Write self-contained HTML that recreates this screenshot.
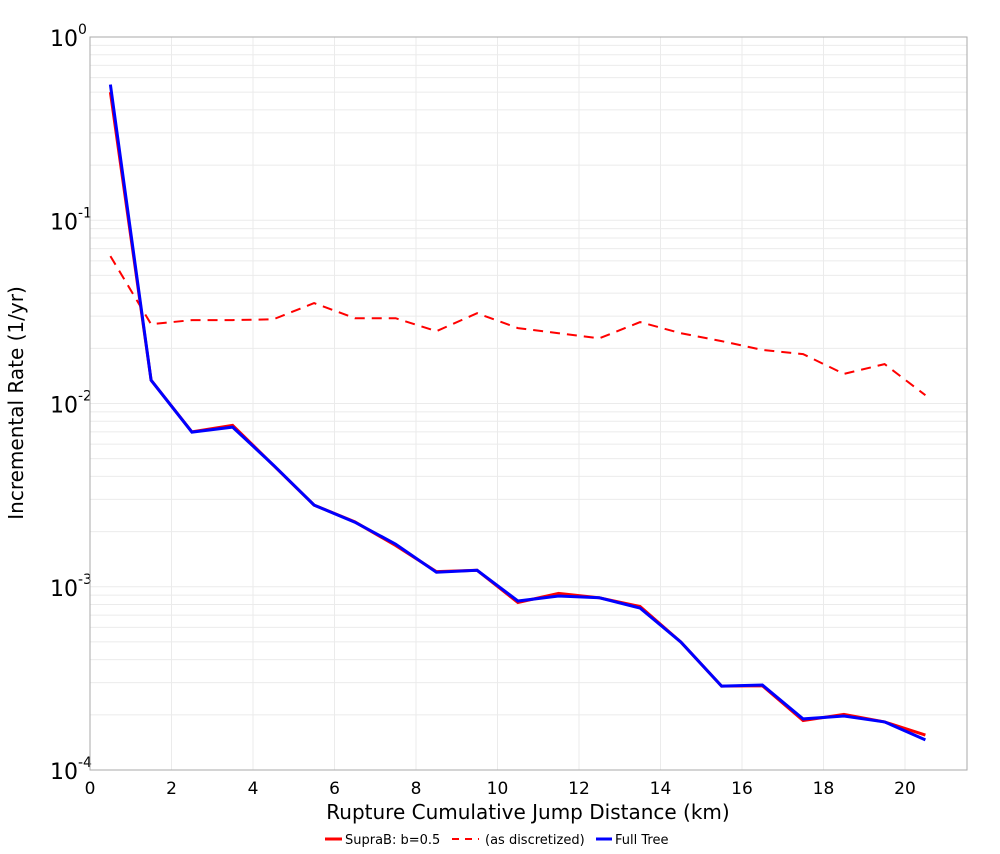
<!DOCTYPE html>
<html><head><meta charset="utf-8"><style>
body{margin:0;background:#fff;font-family:"DejaVu Sans","Liberation Sans",sans-serif}
</style></head><body>
<svg id="chart" width="1000" height="850" xmlns="http://www.w3.org/2000/svg">
<g id="grid"></g>
<g id="axes"></g>
<g id="series"></g>
<text x="528" y="819" font-size="20" text-anchor="middle">Rupture Cumulative Jump Distance (km)</text>
<text transform="translate(23,403) rotate(-90)" font-size="20" text-anchor="middle">Incremental Rate (1/yr)</text>
<g font-size="13">
<g><line x1="325" y1="839" x2="342" y2="839" stroke="#f00" stroke-width="3"/><text x="345" y="844">SupraB: b=0.5</text></g>
<g><line x1="452" y1="839" x2="479" y2="839" stroke="#f00" stroke-width="2" stroke-dasharray="7,6"/><text x="485" y="844">(as discretized)</text></g>
<g><line x1="596" y1="839" x2="612" y2="839" stroke="#00f" stroke-width="3"/><text x="615" y="844">Full Tree</text></g>
</g>
</svg>
<script>
const xs=[0.5,1.5,2.5,3.5,4.5,5.5,6.5,7.5,8.5,9.5,10.5,11.5,12.5,13.5,14.5,15.5,16.5,17.5,18.5,19.5,20.5];
const supraB=[0.50,0.0134,0.0070,0.0076,0.0046,0.00279,0.00226,0.00168,0.00121,0.00123,0.00082,0.00092,0.00087,0.00078,0.000499,0.000287,0.000288,0.000186,0.000201,0.000183,0.000155];
const discretized=[0.0637,0.0271,0.0285,0.0285,0.0288,0.0353,0.0292,0.0292,0.0248,0.0311,0.0258,0.0242,0.0227,0.0278,0.0242,0.0219,0.0196,0.0186,0.0145,0.0164,0.0111];
const fullTree=[0.55,0.0134,0.00698,0.00743,0.00461,0.00279,0.00225,0.00171,0.00120,0.00123,0.000836,0.00089,0.00087,0.000765,0.000499,0.000287,0.000291,0.00019,0.000197,0.000183,0.000146];
const xTicks=[0,2,4,6,8,10,12,14,16,18,20];
const yExps=[-4,-3,-2,-1,0];
const L=90,R=967,T=37,B=770;
const X=v=>L+v*(905-90)/20;
const Y=v=>B-(Math.log10(v)+4)*(B-T)/4;
const NS="http://www.w3.org/2000/svg";
function mk(p,t,a){const e=document.createElementNS(NS,t);for(const k in a)e.setAttribute(k,a[k]);p.appendChild(e);return e;}
const grid=document.getElementById('grid'),axes=document.getElementById('axes'),series=document.getElementById('series');
for(let e=-4;e<0;e++)for(let m=1;m<10;m++){const y=Y(m*Math.pow(10,e));
const g=mk(grid,'line',{x1:L,x2:R,y1:y,y2:y,stroke:'#ebebeb','stroke-width':1});

}
xTicks.forEach(t=>{const x=X(t);
const g=mk(grid,'line',{x1:x,x2:x,y1:T,y2:B,stroke:'#ebebeb','stroke-width':1});


const tx=mk(axes,'text',{x:x,y:B+24,'font-size':17,'text-anchor':'middle'});tx.textContent=t;

});
yExps.forEach(e=>{const y=Y(Math.pow(10,e));
const tx=mk(axes,'text',{x:50,y:y+9,'font-size':22});tx.textContent='10';


const s=mk(tx,'tspan',{dy:-12,'font-size':14});s.textContent=String(e);});
const fr=mk(axes,'rect',{x:L,y:T,width:R-L,height:B-T,fill:'none',stroke:'#aaa','stroke-width':1});


function line(vals,color,w,dash,name){const d=vals.map((v,i)=>(i?'L':'M')+X(xs[i]).toFixed(1)+','+Y(v).toFixed(1)).join(' ');
const p=mk(series,'path',{d:d,fill:'none',stroke:color,'stroke-width':w,'stroke-dasharray':dash||'none'});

}
line(discretized,'#f00',2,'10,7','line-discretized');
line(supraB,'#f00',3,null,'line-suprab');
line(fullTree,'#00f',3,null,'line-full-tree');
</script>
</body></html>
